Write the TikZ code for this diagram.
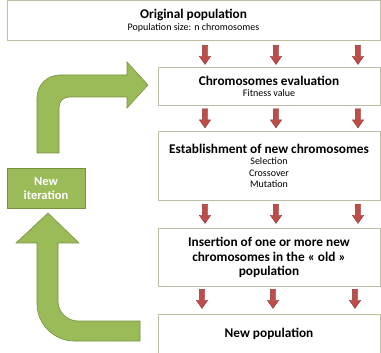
\documentclass[tikz,border=0pt]{standalone}
\usepackage{fontspec}
\setmainfont{Carlito}
\usepackage{tikz}
\usetikzlibrary{shapes.arrows,positioning,calc}

\definecolor{boxline}{RGB}{188,192,165}
\definecolor{leafgreen}{RGB}{155,187,89}
\definecolor{leafdark}{RGB}{118,146,60}
\definecolor{arrowred}{RGB}{190,76,73}
\definecolor{arrowdark}{RGB}{140,56,54}

\newcommand{\hd}[1]{{\fontsize{13.3}{14.5}\selectfont\bfseries #1}}

\begin{document}
\begin{tikzpicture}[x=1pt,y=-1pt]
        \tikzstyle{stage}=[rectangle, draw=boxline, line width=1pt, fill=white, align=center, inner sep=2pt, minimum width=222pt, font=\fontsize{10}{11.5}\selectfont]
        \tikzstyle{bigstage}=[stage, font=\fontsize{13.3}{14.5}\selectfont\bfseries]
        \tikzstyle{redarrow}=[single arrow, shape border rotate=270, draw=arrowdark, fill=arrowred, minimum height=19pt, inner sep=2.5pt, single arrow head extend=3pt, single arrow tip angle=70]
        \tikzstyle{loopband}=[fill=leafgreen, draw=leafdark, line width=0.6pt]
        \useasboundingbox (0,0) rectangle (381,353);

        % Original population
        \node (orig) [stage, minimum width=373pt, minimum height=40pt] at (193.5,20.5) {\hd{Original population}\\Population size: n chromosomes};

        % Evaluation
        \node (eval) [stage, minimum height=38pt, below=26pt of orig.south east, anchor=north east] {\hd{Chromosomes evaluation}\\Fitness value};

        % New chromosomes
        \node (estab) [stage, minimum height=69pt, below=25pt of eval.south east, anchor=north east] {\hd{Establishment of new chromosomes}\\Selection\\Crossover\\Mutation};

        % Insertion
        \node (insert) [bigstage, minimum height=58pt, below=27pt of estab.south east, anchor=north east] {Insertion of one or more new\\chromosomes in the « old »\\population};

        % New population
        \node (newpop) [bigstage, minimum height=39pt, below=27pt of insert.south east, anchor=north east] {New population};

        % Red arrows
        \foreach \y/\dx [count=\i] in {53/0,116.5/0,212/0,297/-3}
            \foreach \x [count=\j] in {205,276,358}
                \node (red\i\j) [redarrow] at (\x+\dx,\y) {};

        % New iteration
        \node (iter) [rectangle, fill=leafgreen, draw=leafdark, minimum width=78pt, minimum height=40pt, text=white, align=center, font=\fontsize{12.5}{14}\selectfont\bfseries] at (46,188) {New\\iteration};

        % Green arrows
        \draw[loopband] (37,153) -- (37,98) .. controls (37,85) and (47,75) .. (60,75) -- (127,75) -- (127,62) -- (148,85) -- (127,108) -- (127,97) -- (70,97) .. controls (63,97) and (59,101) .. (59,108) -- (59,153) -- cycle;
        \draw[loopband] (48,213) -- (79,243) -- (58,243) -- (58,301) .. controls (58,312) and (67,321) .. (78,321) -- (140,321) -- (140,341) -- (74,341) .. controls (54,341) and (37,324) .. (37,304) -- (37,243) -- (16,243) -- cycle;
    \end{tikzpicture}
\end{document}
